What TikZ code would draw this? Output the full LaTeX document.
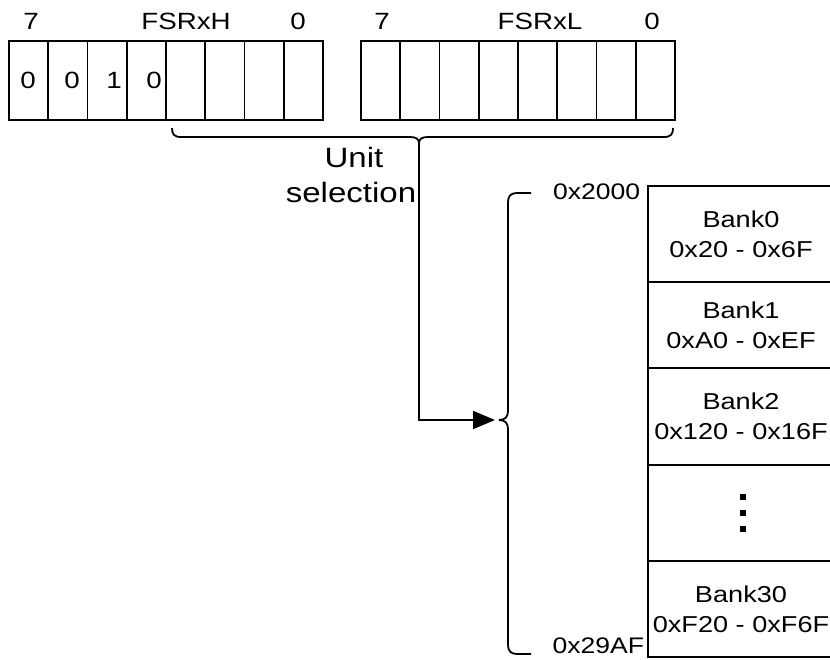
\documentclass[tikz,border=0pt]{standalone}
\usepackage{fontspec}
\setmainfont{Liberation Sans}[FakeStretch=1.18]
\usetikzlibrary{arrows.meta}
\tikzset{
  cell/.style={draw, minimum width=39.25pt, minimum height=79pt, inner sep=0pt, outer sep=0pt},
  lbl/.style={inner sep=0pt, font=\fontsize{23.5}{26}\selectfont},
  addr/.style={inner sep=0pt, font=\fontsize{22.5}{26}\selectfont},
  bigl/.style={inner sep=0pt, font=\fontsize{28}{32}\selectfont},
  bank/.style={draw, minimum width=186pt, inner sep=0pt, outer sep=0pt, align=center,
               font=\fontsize{23}{30}\selectfont},
  dotsq/.style={fill, minimum size=6.5pt, inner sep=0pt},
  conn/.style={-{Triangle[length=22pt,width=18pt]}, shorten >=4pt}
}
\begin{document}
\begin{tikzpicture}[x=1pt,y=-1pt,line width=1.8pt]
\useasboundingbox (0,0) rectangle (830,659);
% register cells
\foreach \i in {0,...,7}{
  \node[cell] (h\i) at ({9+39.25*(7-\i)+19.625},80.5) {};
  \node[cell] (l\i) at ({361+39.25*(7-\i)+19.625},80.5) {};
}
% bit values
\node[lbl] (d7) at (28,80) {0};
\node[lbl] (d6) at (72,80) {0};
\node[lbl] (d5) at (114,80) {1};
\node[lbl] (d4) at (154,80) {0};
% headers
\node[lbl] (h7t) at (31,21) {7};
\node[lbl] (hn) at (186,21) {FSRxH};
\node[lbl] (h0t) at (298,21) {0};
\node[lbl] (l7t) at (382,21) {7};
\node[lbl] (ln) at (540,21) {FSRxL};
\node[lbl] (l0t) at (652,21) {0};
% unit selection
\node[bigl] (unit) at (354,157) {Unit};
\node[bigl] (sel) at (351,192) {selection};
% memory banks
\node[bank, minimum height=96pt, anchor=north west] (b0) at (648,186) {Bank0\\0x20 - 0x6F};
\node[bank, minimum height=86pt, anchor=north west] (b1) at (b0.south west) {Bank1\\0xA0 - 0xEF};
\node[bank, minimum height=97pt, anchor=north west] (b2) at (b1.south west) {Bank2\\0x120 - 0x16F};
\node[bank, minimum height=96pt, anchor=north west] (bd) at (b2.south west) {};
\node[bank, minimum height=96pt, anchor=north west] (b30) at (bd.south west) {Bank30\\0xF20 - 0xF6F};
\node[dotsq] (dt1) at (743,497) {};
\node[dotsq] (dt2) at (743,513) {};
\node[dotsq] (dt3) at (743,529) {};
% addresses
\node[addr, anchor=east] (a0) at (641,192) {0x2000};
\node[addr, anchor=east] (a1) at (645,646) {0x29AF};
% top brace
\coordinate (ut) at (419,143);
\draw (172,128) .. controls (172,134) and (174,137) .. (181,137) -- (410,137)
      .. controls (416,137) and (419,139) .. (ut);
\draw (673,128) .. controls (673,134) and (671,137) .. (664,137) -- (428,137)
      .. controls (422,137) and (419,139) .. (ut);
% memory brace
\coordinate (mt) at (499,420);
\draw (531,193) -- (517,193) .. controls (511,193) and (508,196) .. (508,202) -- (508,411)
      .. controls (508,417) and (505,420) .. (mt);
\draw (531,654) -- (517,654) .. controls (511,654) and (508,651) .. (508,645) -- (508,429)
      .. controls (508,423) and (505,420) .. (mt);
% connector
\draw[conn] (ut) |- (mt);
\end{tikzpicture}
\end{document}
